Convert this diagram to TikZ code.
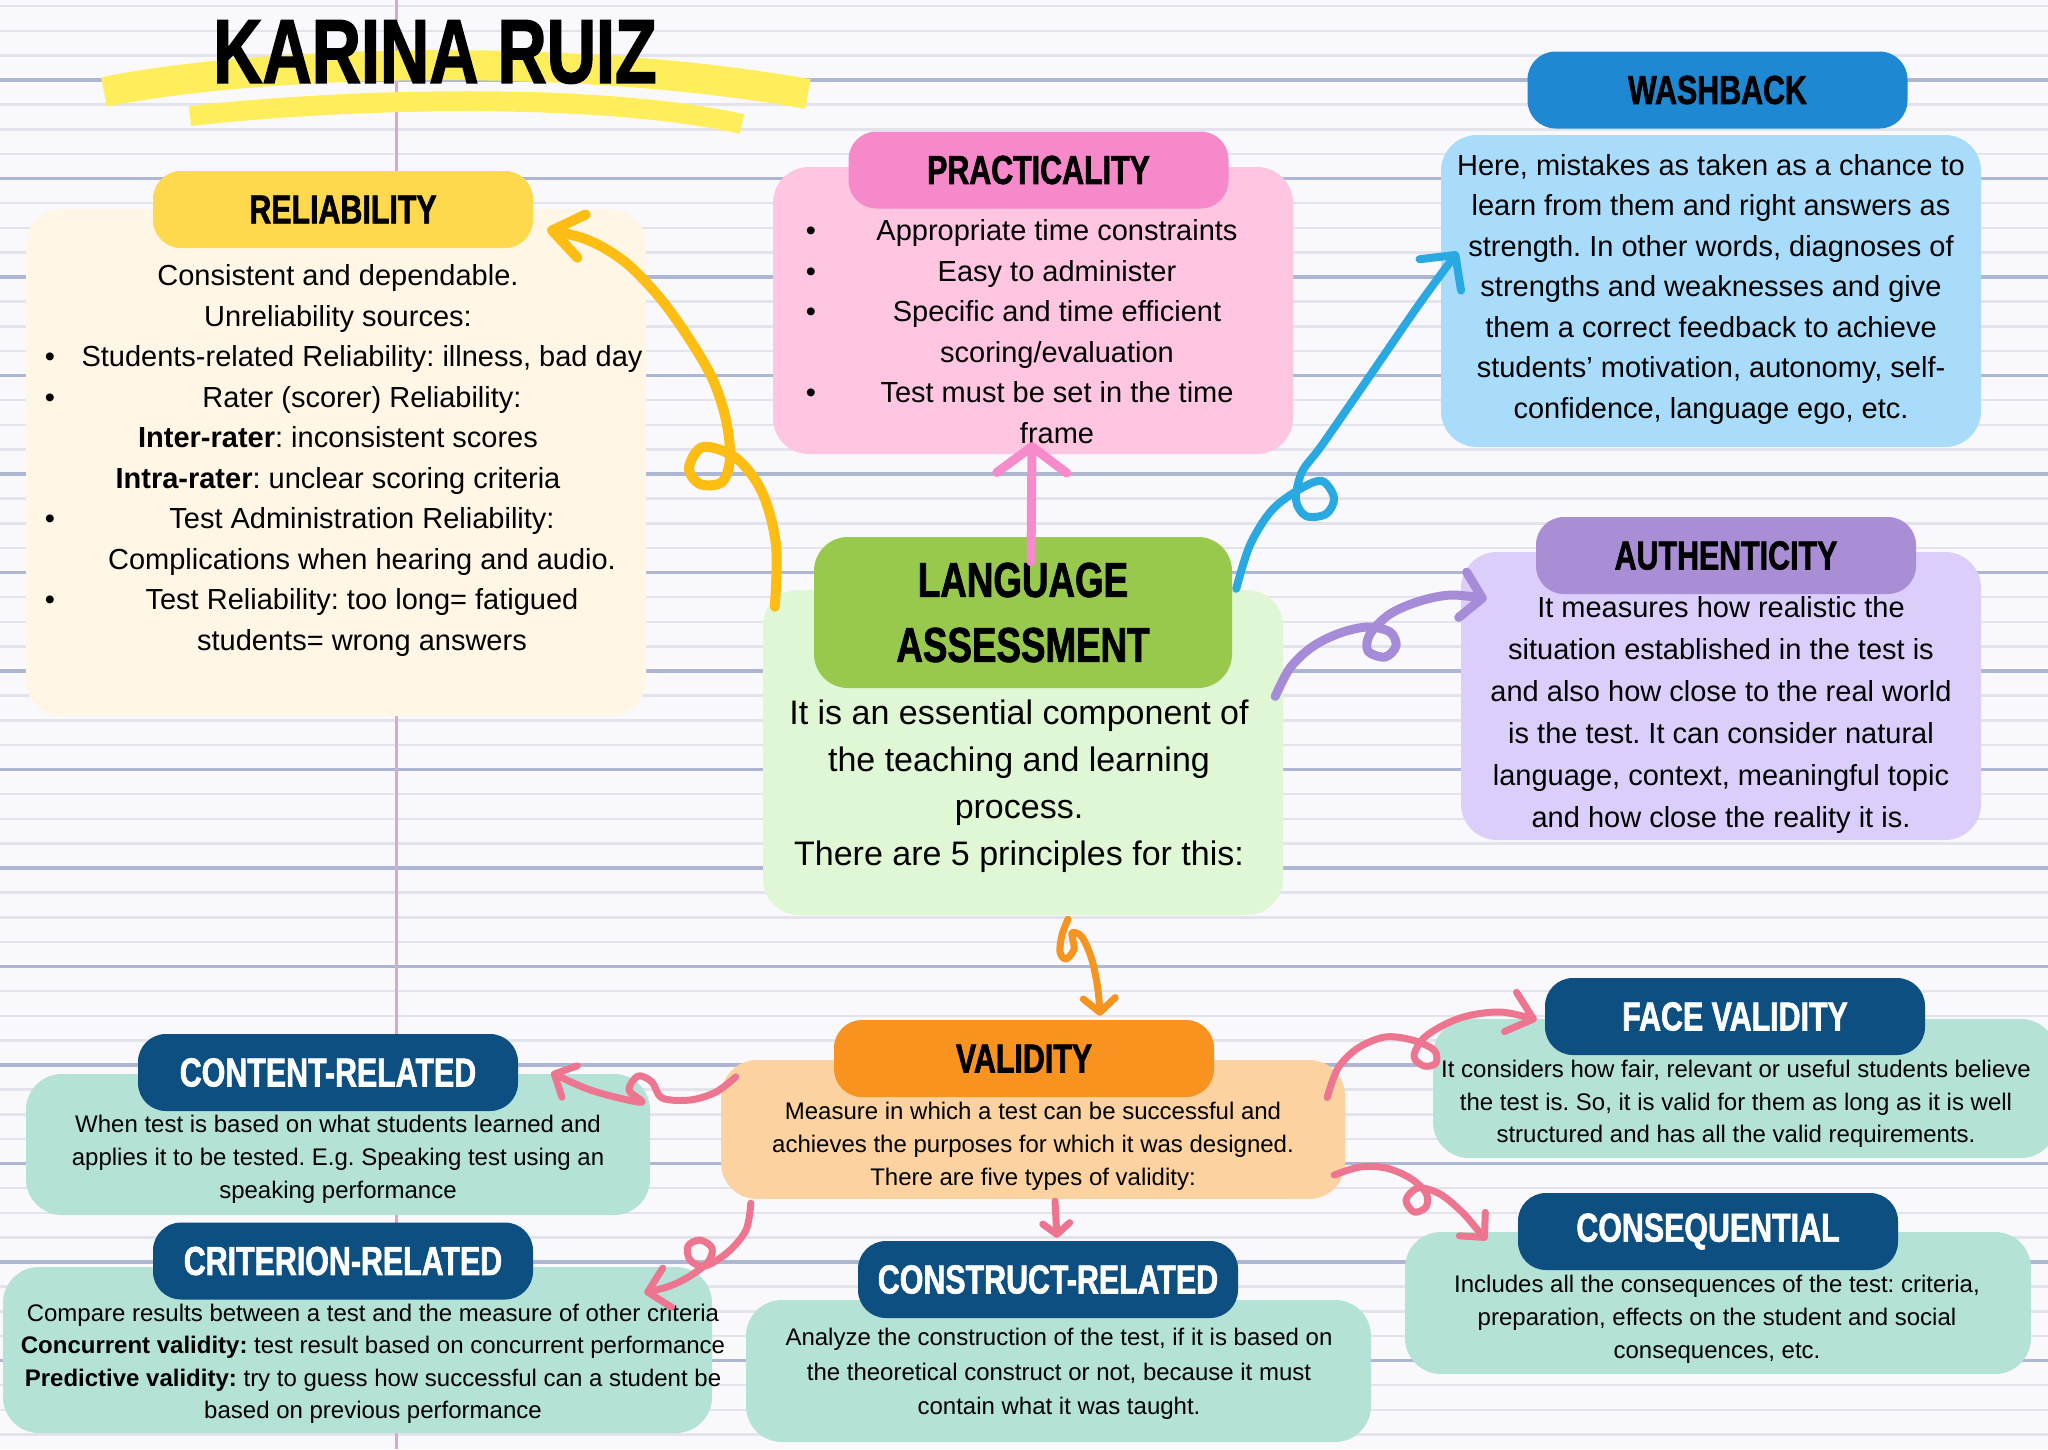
\documentclass[tikz,border=0pt]{standalone}
\usepackage{fontspec}
\usepackage{array}
\setmainfont{Liberation Sans}
\newfontfamily\headfont{Liberation Sans}[UprightFont={* Bold},FakeStretch=0.75,FakeBold=1.5]
\usetikzlibrary{arrows.meta,calc}
\frenchspacing
\definecolor{paper}{HTML}{F9F8FC}
\definecolor{ruleline}{HTML}{E3E3EB}
\definecolor{ruleblue}{HTML}{ADB7D4}
\definecolor{marginpink}{HTML}{D8A8D2}
\definecolor{brush}{HTML}{FFEE5C}
\definecolor{relyellow}{HTML}{FED94E}
\definecolor{relcream}{HTML}{FFF6E6}
\definecolor{practpink}{HTML}{F589C9}
\definecolor{practlight}{HTML}{FFC5E1}
\definecolor{washblue}{HTML}{1E88D2}
\definecolor{washlight}{HTML}{A8DCFA}
\definecolor{authpurple}{HTML}{A98ED6}
\definecolor{authlight}{HTML}{DCCEFB}
\definecolor{langgreen}{HTML}{98C94D}
\definecolor{langlight}{HTML}{E0F7D5}
\definecolor{valorange}{HTML}{F7931E}
\definecolor{valpeach}{HTML}{FCD2A0}
\definecolor{typenavy}{HTML}{0D4F80}
\definecolor{typemint}{HTML}{B4E2D6}
\definecolor{inkyellow}{HTML}{FDBD13}
\definecolor{inkpink}{HTML}{F58BCB}
\definecolor{inkblue}{HTML}{29A9E1}
\definecolor{inkpurple}{HTML}{A68CD8}
\definecolor{inkorange}{HTML}{F5941F}
\definecolor{inksalmon}{HTML}{EE7590}

\begin{document}
\begin{tikzpicture}[x=1pt,y=-1pt,
    head/.style={rounded corners=28pt, minimum width=380pt, minimum height=77pt,
      inner sep=0pt, font=\headfont\fontsize{40.5}{44}\selectfont},
    card/.style={rounded corners=36pt, inner sep=0pt},
    txt/.style={align=center, inner sep=0pt, font=\fontsize{29}{40.5}\selectfont},
    small/.style={align=center, inner sep=0pt, font=\fontsize{24}{33}\selectfont},
    curl/.style={line width=7pt, line cap=round, line join=round},
    barb/.style 2 args={-{Straight Barb[length=#1,width=#2,round]}}
  ]

  % paper
  \useasboundingbox (0,0) rectangle (2048,1449);
  \fill[paper] (0,0) rectangle (2048,1449);
  \foreach \k in {0,...,58}
    \draw[ruleline, line width=2.5pt] (0,{6.2+24.625*\k}) -- (2048,{6.2+24.625*\k});
  \foreach \k in {3,7,...,55}
    \draw[ruleblue, line width=3.5pt] (0,{6.2+24.625*\k}) -- (2048,{6.2+24.625*\k});
  \draw[marginpink, line width=3pt] (396,0) -- (396,1449);

  % title
  \draw[brush, line width=30pt] (104,92) .. controls (250,62) and (560,50) .. (808,94);
  \draw[brush, line width=20pt] (190,116) .. controls (350,98) and (600,92) .. (742,124);
  \node[font=\headfont\fontsize{91}{91}\selectfont] (title) at (435,52) {KARINA RUIZ};

  % cards
  \node[card, fill=relcream, minimum width=620pt, minimum height=507pt] (relbody) at (336,462.5) {};
  \node[card, fill=practlight, minimum width=520pt, minimum height=287pt] (practbody) at (1033,310.5) {};
  \node[card, fill=washlight, minimum width=540pt, minimum height=312pt] (washbody) at (1711,291) {};
  \node[card, fill=authlight, minimum width=520pt, minimum height=288pt] (authbody) at (1721,696) {};
  \node[card, fill=langlight, minimum width=520pt, minimum height=325pt] (labody) at (1023,752.5) {};
  \node[card, fill=valpeach, minimum width=624pt, minimum height=139pt] (valbody) at (1033,1129.5) {};
  \node[card, fill=typemint, minimum width=624pt, minimum height=141pt] (contbody) at (338,1144.5) {};
  \node[card, fill=typemint, minimum width=709pt, minimum height=166pt] (critbody) at (357.5,1350) {};
  \node[card, fill=typemint, minimum width=625pt, minimum height=142pt] (consbody) at (1058.5,1371) {};
  \node[card, fill=typemint, minimum width=624pt, minimum height=139pt] (facebody) at (1745,1088.5) {};
  \node[card, fill=typemint, minimum width=626pt, minimum height=142pt] (seqbody) at (1718,1303) {};

  % headers
  \node[head, fill=relyellow] (relhead) at (343,209.5) {RELIABILITY};
  \node[head, fill=practpink] (practhead) at (1038.5,170) {PRACTICALITY};
  \node[head, fill=washblue] (washhead) at (1717.5,90) {WASHBACK};
  \node[head, fill=authpurple] (authhead) at (1726,555.5) {AUTHENTICITY};
  \node[head, fill=langgreen, minimum width=418pt, minimum height=151pt, rounded corners=34pt,
        align=center, font=\headfont\fontsize{49}{65}\selectfont] (lahead) at (1023,612.5) {LANGUAGE\\ASSESSMENT};
  \node[head, fill=valorange] (valhead) at (1024,1058.5) {VALIDITY};
  \node[head, fill=typenavy, text=white] (conthead) at (328,1072.5) {CONTENT-RELATED};
  \node[head, fill=typenavy, text=white] (crithead) at (343,1261) {CRITERION-RELATED};
  \node[head, fill=typenavy, text=white] (conshead) at (1048,1279.5) {CONSTRUCT-RELATED};
  \node[head, fill=typenavy, text=white] (facehead) at (1735,1016.5) {FACE VALIDITY};
  \node[head, fill=typenavy, text=white] (seqhead) at (1708,1231.5) {CONSEQUENTIAL};

  % texts
  \node[txt] (reltext) at (338,460) {\begin{tabular}{@{}w{c}{48pt}@{}w{c}{576pt}@{}}
    \multicolumn{2}{@{}c@{}}{Consistent and dependable.}\\
    \multicolumn{2}{@{}c@{}}{Unreliability sources:}\\
    \textbullet & Students-related Reliability: illness, bad day\\
    \textbullet & Rater (scorer) Reliability:\\
    \multicolumn{2}{@{}c@{}}{\textbf{Inter-rater}: inconsistent scores}\\
    \multicolumn{2}{@{}c@{}}{\textbf{Intra-rater}: unclear scoring criteria}\\
    \textbullet & Test Administration Reliability:\\
     & Complications when hearing and audio.\\
    \textbullet & Test Reliability: too long= fatigued\\
     & students= wrong answers
  \end{tabular}};
  \node[txt] (practtext) at (1019,334) {\begin{tabular}{@{}w{c}{76pt}@{}w{c}{416pt}@{}}
    \textbullet & Appropriate time constraints\\
    \textbullet & Easy to administer\\
    \textbullet & Specific and time efficient\\
     & scoring/evaluation\\
    \textbullet & Test must be set in the time\\
     & frame
  \end{tabular}};
  \node[txt] (washtext) at (1711,289) {Here, mistakes as taken as a chance to\\learn from them and right answers as\\strength. In other words, diagnoses of\\strengths and weaknesses and give\\them a correct feedback to achieve\\students' motivation, autonomy, self-\\confidence, language ego, etc.};
  \node[txt, font=\fontsize{29}{42}\selectfont] (authtext) at (1721,715) {It measures how realistic the\\situation established in the test is\\and also how close to the real world\\is the test. It can consider natural\\language, context, meaningful topic\\and how close the reality it is.};
  \node[txt, font=\fontsize{34}{47}\selectfont] (latext) at (1019,786) {It is an essential component of\\the teaching and learning\\process.\\There are 5 principles for this:};
  \node[small] (valtext) at (1033,1146) {Measure in which a test can be successful and\\achieves the purposes for which it was designed.\\There are five types of validity:};
  \node[small] (conttext) at (338,1159) {When test is based on what students learned and\\applies it to be tested. E.g. Speaking test using an\\speaking performance};
  \node[small, font=\fontsize{24}{32.5}\selectfont] (crittext) at (373,1364) {Compare results between a test and the measure of other criteria\\\textbf{Concurrent validity:} test result based on concurrent performance\\\textbf{Predictive validity:} try to guess how successful can a student be\\based on previous performance};
  \node[small, font=\fontsize{24}{34.5}\selectfont] (constext) at (1059,1374) {Analyze the construction of the test, if it is based on\\the theoretical construct or not, because it must\\contain what it was taught.};
  \node[small, font=\fontsize{24}{32.5}\selectfont] (facetext) at (1736,1104) {It considers how fair, relevant or useful students believe\\the test is. So, it is valid for them as long as it is well\\structured and has all the valid requirements.};
  \node[small] (seqtext) at (1717,1319) {Includes all the consequences of the test: criteria,\\preparation, effects on the student and social\\consequences, etc.};

  % hand drawn arrows
  \draw[curl, inkyellow, line width=10pt, barb={30pt}{44pt}] plot[smooth, tension=0.55] coordinates {($(labody.north west)+(12,17)$) (776,545) (762,492) (736,458) (703,447) (689,468) (700,484) (722,482) (730,458) (726,420) (713,380) (690,340) (660,298) (625,262) (588,240) ($(relhead.east)+(14,20)$)};
  \draw[curl, inkpink, line width=9pt, barb={26pt}{70pt}] ($(lahead.north)+(8,25)$) -- ($(practbody.south)+(-1,-12)$);
  \draw[curl, inkblue, line width=8pt, barb={25pt}{52pt}] plot[smooth, tension=0.55] coordinates {($(lahead.north east)+(4,52)$) (1250,545) (1272,510) (1300,489) (1322,481) (1334,498) (1326,514) (1306,516) (1296,500) (1302,472) (1322,445) (1367,380) (1420,303) ($(washbody.north west)+(17,117)$)};
  \draw[curl, inkpurple, line width=9pt, barb={20pt}{46pt}] plot[smooth, tension=0.55] coordinates {($(labody.east)+(-8,-56)$) (1290,668) (1312,647) (1340,633) (1368,627) (1390,632) (1396,646) (1385,657) (1368,651) (1370,634) (1390,614) (1420,601) (1452,595) ($(authbody.west)+(26,-97)$)};
  \draw[curl, inkorange, barb={14pt}{32pt}] plot[smooth, tension=0.55] coordinates {($(labody.south)+(45,4)$) (1062,935) (1060,952) (1066,959) (1074,949) (1072,933) (1082,937) (1092,960) (1098,990) ($(valhead.north)+(76,-4)$)};
  \draw[curl, inksalmon, barb={17pt}{35pt}] plot[smooth, tension=0.55] coordinates {($(valbody.north west)+(15,17)$) (716,1092) (690,1100) (662,1098) (652,1082) (638,1076) (629,1090) (642,1102) (615,1097) (585,1088) ($(conthead.east)+(33,0)$)};
  \draw[curl, inksalmon, barb={20pt}{40pt}] plot[smooth, tension=0.55] coordinates {($(valbody.south west)+(30,4)$) (746,1230) (728,1252) (705,1266) (690,1260) (688,1246) (700,1240) (712,1248) (708,1262) (690,1276) (670,1286) ($(critbody.north east)+(-68,26)$)};
  \draw[curl, inksalmon, barb={11pt}{27pt}] ($(valbody.south)+(22,2)$) -- ($(conshead.north)+(9,-3)$);
  \draw[curl, inksalmon, barb={24pt}{41pt}] plot[smooth, tension=0.55] coordinates {($(valbody.east)+(-18,-32)$) (1338,1068) (1358,1048) (1385,1037) (1412,1040) (1434,1050) (1436,1063) (1424,1066) (1414,1056) (1426,1036) (1460,1018) (1500,1012) ($(facehead.west)+(-8,3.5)$)};
  \draw[curl, inksalmon, barb={18pt}{35pt}] plot[smooth, tension=0.55] coordinates {($(valbody.east)+(-11,45.5)$) (1360,1167) (1386,1168) (1410,1178) (1426,1193) (1426,1207) (1414,1212) (1406,1200) (1418,1188) (1440,1194) (1462,1212) (1476,1228) ($(seqhead.west)+(-31,8.5)$)};

\end{tikzpicture}
\end{document}
